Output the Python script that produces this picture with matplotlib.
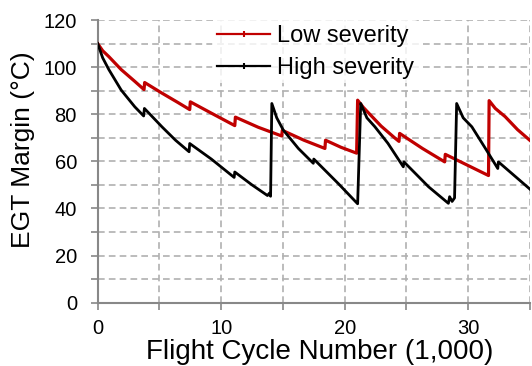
import matplotlib
matplotlib.use("Agg")
from matplotlib import pyplot as plt
from matplotlib.lines import Line2D
from matplotlib.ticker import MultipleLocator

# values (flight cycles in thousands, margin in degC)
low_x = [0, 0.4, 0.9, 1.9, 3.0, 3.75, 3.8, 5.2, 6.5, 7.45, 7.5, 9.2, 11.1, 11.15,
         13.0, 14.9, 14.95, 16.7, 18.4, 18.45, 19.7, 20.97, 21.05, 21.5, 21.95, 22.95,
         24.05, 24.4, 24.45, 26.3, 28.1, 28.15, 29.9, 31.65, 31.7, 32.2, 33.0, 34.0, 35.1]
low_y = [110, 107, 104.5, 99, 94, 90.5, 93.5, 89, 85, 82, 85.3, 80.5, 75.2, 78.8,
         74.5, 70.8, 73.2, 69, 65.5, 69, 66, 63.5, 86, 83, 80.5, 75,
         70, 68.5, 71.9, 65.5, 59.8, 63, 58.5, 54, 85.8, 82.5, 79, 73.5, 68.5]

high_x = [0, 0.4, 0.9, 1.9, 3.0, 3.72, 3.78, 5.2, 6.3, 7.4, 7.45, 9.2, 11.05, 11.1,
          12.5, 13.75, 13.9, 14.0, 14.1, 14.5, 15.03, 16.25, 17.46, 17.5, 19.5, 21.05,
          21.3, 21.8, 22.45, 23.5, 24.75, 24.8, 26.8, 28.4, 28.5, 28.7, 28.9, 29.07,
          29.6, 30.3, 31.4, 32.4, 32.45, 35.1]
high_y = [110, 104, 99, 90.3, 83.2, 79.3, 82.5, 74.7, 69, 64.1, 67.6, 61, 53.2, 55.5,
          50, 45.5, 46.5, 45.2, 84.6, 78.5, 73.3, 65.5, 59.2, 61, 50.5, 42,
          84.6, 78.5, 74.7, 67.7, 57.7, 59.8, 49.2, 42.2, 45, 43, 44.5, 84.6,
          78.5, 74.7, 65.5, 57, 59.8, 47.8]

series_names = ["Low severity", "High severity"]
x_label = "Flight Cycle Number (1,000)"
y_label = "EGT Margin (°C)"

plt.rcParams['font.family'] = ['Liberation Sans', 'DejaVu Sans']

fig = plt.figure(figsize=(5.32, 3.66), dpi=100)
ax = fig.add_axes([0.1837, 0.173, 0.8123, 0.772])

red = "#c00000"
ax.plot(low_x, low_y, color=red, lw=2.3, zorder=3)
ax.plot(high_x, high_y, color="black", lw=2.0, zorder=3)

ax.set_xlim(0, 35)
ax.set_ylim(0, 120)
ax.xaxis.set_major_locator(MultipleLocator(10))
ax.xaxis.set_minor_locator(MultipleLocator(5))
ax.yaxis.set_major_locator(MultipleLocator(20))
ax.yaxis.set_minor_locator(MultipleLocator(10))

grid_style = dict(color="#b0b0b0", linestyle=(0, (4, 2.5)), linewidth=1.2)
ax.grid(True, which="both", **grid_style)
ax.set_axisbelow(True)

for side in ["top", "right"]:
    ax.spines[side].set_visible(False)
for side in ["left", "bottom"]:
    ax.spines[side].set_color("#888888")
    ax.spines[side].set_linewidth(1.5)

ax.tick_params(which="both", direction="out", length=5, width=1.2, color="#888888",
               labelsize=14.5)
ax.tick_params(axis="x", which="both", pad=6.5)
ax.tick_params(axis="y", which="both", pad=10)
ax.set_xlabel(x_label, fontsize=20)
ax.set_ylabel(y_label, fontsize=19)
ax.xaxis.set_label_coords(0.513, -0.128)
ax.yaxis.set_label_coords(-0.145, 0.54)

# legend handles with a small marker in the middle, as in the reference
handles = [Line2D([], [], color=red, lw=1.6, marker="|", ms=4, mew=1.5),
           Line2D([], [], color="black", lw=1.6, marker="|", ms=4, mew=1.5)]
leg = ax.legend(handles, series_names, loc="upper left", bbox_to_anchor=(0.265, 1.0),
                fontsize=17, frameon=True, handlelength=2.25, handletextpad=0.3,
                labelspacing=0.42, borderpad=0.2, borderaxespad=0)
leg.get_frame().set_facecolor("white")
leg.get_frame().set_edgecolor("none")
leg.get_frame().set_alpha(0.8)

fig.savefig("out.png", dpi=100)
